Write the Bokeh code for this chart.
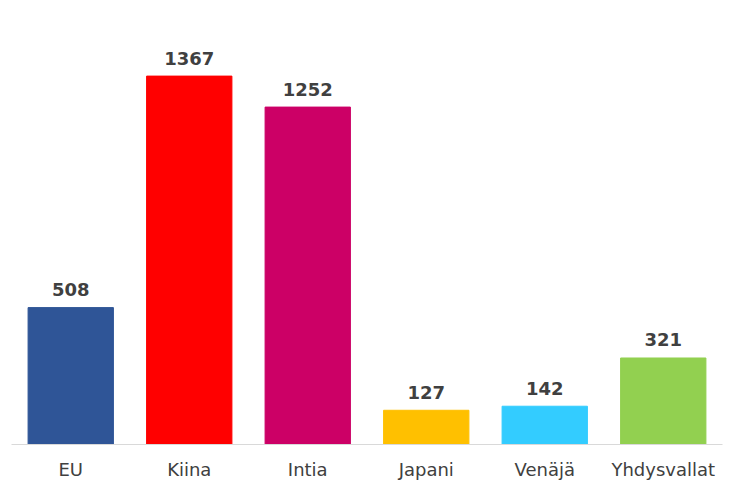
from bokeh.plotting import figure
from bokeh.models import ColumnDataSource, FactorRange, Range1d
from bokeh.embed import file_html
from bokeh.resources import INLINE
from bokeh.core.properties import value

categories = ["EU", "Kiina", "Intia", "Japani", "Venäjä", "Yhdysvallat"]
values = [508, 1367, 1252, 127, 142, 321]
colors = ["#2F5597", "#FF0000", "#CC0066", "#FFC000", "#33CCFF", "#92D050"]
labels = [str(v) for v in values]

src = ColumnDataSource(dict(cat=categories, val=values, col=colors, lab=labels))

p = figure(width=723, height=482, output_backend="svg", toolbar_location=None,
           x_range=FactorRange(*categories, range_padding=0), y_range=Range1d(0, 1603),
           y_axis_location=None, min_border_left=11, min_border_right=1,
           min_border_top=12, min_border_bottom=34)
p.outline_line_color = None
p.xgrid.grid_line_color = None
p.ygrid.grid_line_color = None
p.background_fill_color = "white"

p.vbar(x="cat", top="val", width=0.72, color="col", source=src)

p.text(x="cat", y="val", text="lab", source=src, text_align="center",
       text_baseline="alphabetic", y_offset=-18, text_font=value("DejaVu Sans"),
       text_font_size="18px", text_font_style="bold", text_color="#404040")

ax = p.xaxis[0]
ax.axis_line_color = "#D9D9D9"
ax.axis_line_width = 1
ax.major_tick_line_color = None
ax.minor_tick_line_color = None
ax.major_label_text_font = "DejaVu Sans"
ax.major_label_text_font_size = "18px"
ax.major_label_text_color = "#404040"
ax.major_label_standoff = 8

open("out.html", "w").write(file_html(p, INLINE))
